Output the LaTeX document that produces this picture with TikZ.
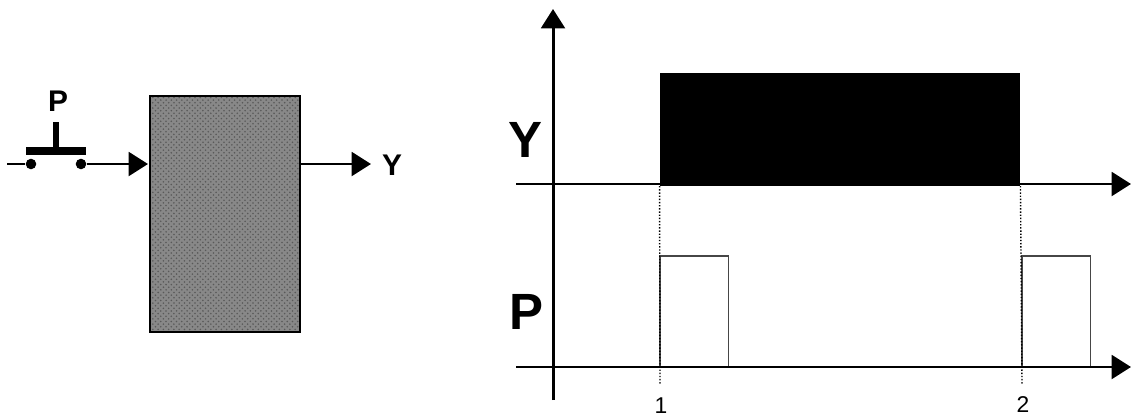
\documentclass[tikz,border=0pt]{standalone}
\usepackage{fontspec}
\setmainfont{Liberation Sans}
\usetikzlibrary{arrows.meta, patterns}
\definecolor{boxgrey}{RGB}{136, 136, 136}
\definecolor{pulsegrey}{RGB}{70, 70, 70}
\tikzset{
    sigline/.style={line width=1.7pt, -{Triangle[length=11pt, width=13.5pt]}},
    guide/.style={densely dotted, line width=0.8pt},
    bigfont/.style={font=\fontsize{29}{29}\selectfont\bfseries, inner sep=0pt},
    smallfont/.style={font=\fontsize{17}{17}\selectfont\bfseries, inner sep=0pt},
    tickfont/.style={font=\fontsize{13}{13}\selectfont, inner sep=0pt},
    contact/.style={circle, fill=black, minimum size=6pt, inner sep=0pt},
    pulse/.style={draw=pulsegrey, line width=1pt, inner sep=0pt, outer sep=0pt, minimum width=39pt, minimum height=63pt}
}

\begin{document}
\begin{tikzpicture}[x=0.02cm, y=-0.02cm]
    \useasboundingbox (0, 0) rectangle (1132, 419);

    % Push button and box
    \node[draw=black, line width=1.2pt, preaction={fill=boxgrey}, pattern=crosshatch dots, pattern color=black!65,
          minimum width=85pt, minimum height=134pt, inner sep=0pt] (box) at (225, 214) {};
    \node[contact] (ca) at (31, 164) {};
    \node[contact] (cb) at (81, 164) {};
    \node[fill=black, minimum width=34pt, minimum height=4pt, inner sep=0pt] (bar) at (56, 151) {};
    \node[smallfont] (plabel) at (58, 101) {P};
    \coordinate (stem) at (56, 122);
    \coordinate (inp) at (7, 164);
    \coordinate (inbox) at (148, 164);
    \coordinate (outbox) at (300, 164);
    \coordinate (outend) at (371, 164);
    \node[smallfont] (ylabel) at (392, 165) {Y};

    \draw[line width=3pt] (bar.north) -- (stem);
    \draw[line width=1.7pt] (inp) -- (ca);
    \draw[sigline] (cb) -- (inbox);
    \draw[sigline] (outbox) -- (outend);

    % Output and input levels
    \node[fill=black, minimum width=205pt, minimum height=64pt, inner sep=0pt] (yblock) at (840, 129.5) {};
    \node[pulse, anchor=south west] (pulsea) at (660, 367) {};
    \node[pulse, anchor=south west] (pulseb) at (1022, 367) {};
    \coordinate (ga) at (660, 384);
    \coordinate (gb) at (1022, 384);
    \draw[guide] (yblock.south west) -- (ga);
    \draw[guide] (yblock.south east) -- (gb);

    % Timing axes
    \coordinate (axtop) at (553, 9);
    \coordinate (axbot) at (553, 400);
    \coordinate (ya) at (516, 184);
    \coordinate (yb) at (1131, 184);
    \coordinate (pa) at (516, 367);
    \coordinate (pb) at (1131, 367);
    \draw[sigline] (axbot) -- (axtop);
    \draw[sigline] (ya) -- (yb);
    \draw[sigline] (pa) -- (pb);

    \node[bigfont] (ytitle) at (525, 140) {Y};
    \node[bigfont] (ptitle) at (526, 312) {P};
    \node[tickfont] (ta) at (661, 406) {1};
    \node[tickfont] (tb) at (1023, 405) {2};
\end{tikzpicture}
\end{document}
